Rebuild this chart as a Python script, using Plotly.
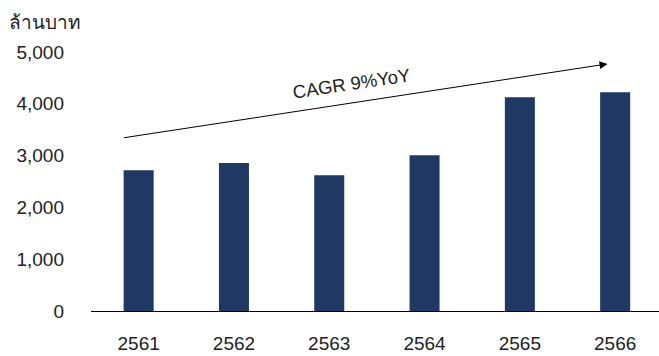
import plotly.graph_objects as go

# Annual values (million baht), Thai Buddhist-era years
years = ["2561", "2562", "2563", "2564", "2565", "2566"]
values = [2716, 2857, 2620, 3006, 4125, 4222]

y_ticks = [0, 1000, 2000, 3000, 4000, 5000]
y_tick_text = ["0", "1,000", "2,000", "3,000", "4,000", "5,000"]

unit_label = "ล้านบาท"
trend_label = "CAGR 9%YoY"

FONT = "Helvetica, Liberation Sans, Arial, Noto Sans, DejaVu Sans, sans-serif"
BAR_COLOR = "#1f3864"
TEXT_COLOR = "#222222"

fig = go.Figure(
    go.Bar(
        x=list(range(len(years))),
        y=values,
        marker=dict(color=BAR_COLOR, line=dict(width=0)),
        width=0.315,
        hoverinfo="skip",
    )
)

fig.update_layout(
    width=659,
    height=356,
    margin=dict(l=91, r=0, t=52, b=45),
    paper_bgcolor="white",
    plot_bgcolor="white",
    showlegend=False,
    font=dict(family=FONT, size=19, color=TEXT_COLOR),
    xaxis=dict(
        range=[-0.5, 5.46],
        tickmode="array",
        tickvals=list(range(len(years))),
        ticktext=years,
        showgrid=False,
        zeroline=False,
        showline=True,
        linecolor="black",
        linewidth=1.2,
        ticks="",
        ticklabelstandoff=15,
        tickfont=dict(size=19, color=TEXT_COLOR),
        fixedrange=True,
    ),
    yaxis=dict(
        range=[0, 5000],
        tickmode="array",
        tickvals=y_ticks,
        ticktext=y_tick_text,
        showgrid=False,
        zeroline=False,
        showline=False,
        ticks="",
        ticklabelstandoff=26,
        tickfont=dict(size=19, color=TEXT_COLOR),
        fixedrange=True,
    ),
    annotations=[
        # unit label above the value axis
        dict(
            text=unit_label,
            xref="paper", yref="paper",
            x=-84 / 568, y=1 + 30 / 259,
            xanchor="left", yanchor="middle",
            showarrow=False,
            font=dict(size=19, color=TEXT_COLOR),
        ),
        # growth trend arrow
        dict(
            x=4.92, y=4770,
            ax=-0.17, ay=3340,
            xref="x", yref="y", axref="x", ayref="y",
            text="",
            showarrow=True,
            arrowhead=2,
            arrowsize=1.6,
            arrowwidth=1,
            arrowcolor="black",
        ),
        dict(
            text=trend_label,
            x=2.23, y=4400,
            xref="x", yref="y",
            showarrow=False,
            textangle=-8.5,
            font=dict(size=18.5, color=TEXT_COLOR),
        ),
    ],
)

fig.write_html("out.html")
